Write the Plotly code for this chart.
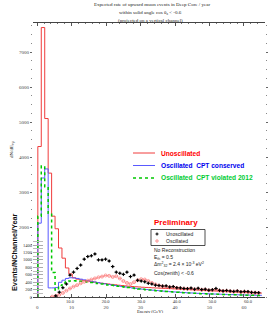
import numpy as np
import plotly.graph_objects as go

W, H = 275, 313

# ---------------- main histograms (dN/dE), 1 GeV bins starting at 0.2 GeV
bin_start = 0.2
bin_width = 1.0
unosc_main = [4300, 7700, 5100, 3540, 2310, 1950, 1400, 1110, 830, 660,
              550, 510, 490, 470, 455, 440, 425, 410, 395, 385,
              372, 360, 348, 337, 327, 317, 308, 300, 293, 286,
              279, 273, 268, 262, 257, 252, 247, 242, 238, 233,
              228, 223, 218, 213, 208, 203, 198, 193, 188, 183,
              178, 173, 168, 163, 158, 153, 148, 143, 138, 133,
              128, 124, 120, 116, 112]
osc_cpt_main = [2110, 3400, 3660, 260, 260, 270, 420, 480, 530, 550,
                545, 530, 510, 490, 470, 450, 430, 410, 392, 375,
                358, 343, 328, 314, 300, 286, 272, 259, 247, 235,
                224, 213, 203, 194, 185, 176, 168, 160, 152, 145,
                138, 132, 126, 120, 115, 110, 105, 100, 96, 92,
                88, 84, 80, 77, 74, 71, 68, 65, 62, 59,
                57, 54, 52, 50, 48]
osc_cptv_main = [2310, 3740, 3150, 2390, 700, 200, 330, 400, 440, 460,
                 465, 460, 450, 440, 428, 415, 402, 388, 374, 360,
                 346, 333, 320, 308, 296, 282, 269, 256, 244, 232,
                 221, 210, 200, 190, 181, 172, 164, 156, 148, 141,
                 134, 128, 122, 116, 111, 106, 101, 96, 92, 88,
                 84, 80, 76, 73, 70, 67, 64, 61, 58, 55,
                 53, 50, 48, 46, 44]

# ---------------- inset (Events/NChannel/Year)
inset_e_unosc = list(range(6, 64))
inset_unosc = [30, 130, 250, 350, 590, 670, 770, 860, 1020, 1090,
               1110, 1160, 1000, 1000, 1020, 970, 820, 670, 640, 610,
               670, 550, 590, 450, 430, 410, 370, 350, 320, 310,
               295, 300, 270, 280, 250, 245, 230, 225, 240, 210,
               235, 200, 210, 185, 195, 230, 180, 165, 175, 160,
               150, 165, 140, 150, 145, 125, 120, 115]
inset_e_osc = list(range(5, 64))
inset_osc = [10, 30, 60, 110, 170, 230, 280, 320, 370, 410,
             440, 470, 500, 530, 550, 580, 570, 540, 560, 500,
             430, 380, 350, 400, 450, 480, 470, 430, 380, 340,
             310, 290, 275, 265, 260, 245, 235, 225, 220, 225,
             205, 215, 195, 200, 180, 185, 200, 170, 160, 165,
             155, 145, 155, 135, 140, 135, 120, 115, 110]

main_xticks = [0, 10, 20, 30, 40, 50, 60]
main_yticks = [2000, 3000, 4000, 5000, 6000, 7000]
inset_xticks = [10, 20, 30, 40, 50, 60]
inset_xticktext = ["10.0", "20.0", "30.0", "40.0", "50.0", "60.0"]
inset_yticks = [0, 200, 400, 600, 800, 1000, 1200, 1400]

SERIF = "Liberation Serif"
SANS = "Liberation Sans"


def px(x):
    return x / W


def py(y):
    return 1 - y / H


def step_xy(values):
    n = len(values)
    edges = bin_start + np.arange(n + 1) * bin_width
    xs = [edges[0]] + list(edges)
    ys = [0] + list(values) + [values[-1]]
    return xs, ys


fig = go.Figure()

for vals, color, dash, width in [
    (unosc_main, "rgb(240,60,60)", "solid", 1),
    (osc_cpt_main, "rgb(90,90,255)", "solid", 1),
    (osc_cptv_main, "rgb(0,200,0)", "dot", 1.5),
]:
    xs, ys = step_xy(vals)
    fig.add_trace(go.Scatter(x=xs, y=ys, mode="lines", line_shape="hv",
                             line=dict(color=color, width=width, dash=dash),
                             xaxis="x", yaxis="y", showlegend=False,
                             hoverinfo="skip"))

fig.add_trace(go.Scatter(
    x=inset_e_osc, y=inset_osc, mode="markers",
    marker=dict(symbol="circle-open", size=3, color="rgba(250,110,110,0.85)",
                line=dict(width=0.8)),
    error_x=dict(type="constant", value=0.5, color="rgba(250,110,110,0.85)",
                 thickness=0.8, width=0),
    xaxis="x2", yaxis="y2", showlegend=False, hoverinfo="skip"))

fig.add_trace(go.Scatter(
    x=inset_e_unosc, y=inset_unosc, mode="markers",
    marker=dict(symbol="circle", size=2, color="black"),
    error_x=dict(type="constant", value=0.5, color="black", thickness=1, width=0),
    error_y=dict(type="constant", value=45, color="black", thickness=1, width=0),
    xaxis="x2", yaxis="y2", showlegend=False, hoverinfo="skip"))

tickfont = dict(family=SERIF, size=5, color="#444")

shapes = []
# main legend lines
shapes.append(dict(type="line", xref="paper", yref="paper", x0=px(133), x1=px(155),
                   y0=py(153), y1=py(153), line=dict(color="rgb(240,60,60)", width=1)))
shapes.append(dict(type="line", xref="paper", yref="paper", x0=px(133), x1=px(155),
                   y0=py(165.5), y1=py(165.5), line=dict(color="rgb(90,90,255)", width=1)))
shapes.append(dict(type="line", xref="paper", yref="paper", x0=px(133), x1=px(155),
                   y0=py(178), y1=py(178), line=dict(color="rgb(0,200,0)", width=1.5, dash="dot")))
# inset legend box
shapes.append(dict(type="rect", xref="paper", yref="paper", x0=px(151), x1=px(205),
                   y0=py(245.5), y1=py(229.5), line=dict(color="#222", width=0.8)))
# black cross marker
shapes.append(dict(type="line", xref="paper", yref="paper", x0=px(155.5), x1=px(158.5),
                   y0=py(234), y1=py(234), line=dict(color="black", width=1)))
shapes.append(dict(type="line", xref="paper", yref="paper", x0=px(157), x1=px(157),
                   y0=py(232.5), y1=py(235.5), line=dict(color="black", width=1)))
# red open circle marker
shapes.append(dict(type="circle", xref="paper", yref="paper", x0=px(155.8), x1=px(158.2),
                   y0=py(242.2), y1=py(239.8), line=dict(color="rgb(250,110,110)", width=0.8)))

ann = []


def text(x, y, s, size, color="#222", family=SERIF, xanchor="left", bold=False, angle=0):
    if bold:
        s = "<b>" + s + "</b>"
    ann.append(dict(x=px(x), y=py(y), xref="paper", yref="paper", text=s,
                    showarrow=False, xanchor=xanchor, yanchor="middle",
                    textangle=angle,
                    font=dict(family=family, size=size, color=color)))


# title
text(152, 4.5, "Expected rate of upward muon events in Deep Core / year", 5, xanchor="center")
text(150, 12.5, "within solid angle cos θ<sub>z</sub> &lt; -0.6", 5, xanchor="center")
text(150, 20.5, "(projected on a vertical channel)", 5, xanchor="center")

# main legend
text(159, 153, "Unoscillated", 6.6, color="#ff0000", family=SANS, bold=True)
text(159, 165.5, "Oscillated  CPT conserved", 6.6, color="#0000ee", family=SANS, bold=True)
text(159, 178, "Oscillated  CPT violated 2012", 6.6, color="#00cc33", family=SANS, bold=True)

# axis titles
text(12, 150, "dN/dE<sub>νμ</sub>", 5, xanchor="center", angle=-90)
text(14, 252, "Events/NChannel/Year", 7.3, color="#111", family=SANS, xanchor="center",
     bold=True, angle=-90)
text(150, 311, "Energy (GeV)", 4.6, xanchor="center")

# inset texts
text(176, 222.5, "Preliminary", 8, color="#ff0000", family=SANS, xanchor="center", bold=True)
text(164, 234, "Unoscillated", 5, family=SANS)
text(164, 241, "Oscillated", 5, family=SANS)
text(152, 249.5, "No Reconstruction", 5, family=SANS)
text(152, 257, "E<sub>th</sub> = 0.5", 5, family=SANS)
text(152, 264.5, "Δm<sup>2</sup><sub>32</sub> = 2.4 × 10<sup>-3</sup> eV<sup>2</sup>", 5, family=SANS)
text(152, 273, "Cos(zenith) &lt; -0.6", 5, family=SANS)

fig.update_layout(
    width=W, height=H,
    margin=dict(l=0, r=0, t=0, b=0, autoexpand=False),
    paper_bgcolor="white", plot_bgcolor="rgba(0,0,0,0)",
    showlegend=False,
    xaxis=dict(domain=[px(33), px(265)], range=[-1.2, 66.1], anchor="y",
               automargin=False,
               tickvals=main_xticks, ticktext=[str(v) for v in main_xticks],
               ticks="inside", ticklen=3, tickcolor="#555", tickwidth=0.7,
               minor=dict(dtick=2, ticklen=1.5, ticks="inside", tickcolor="#777"),
               showline=True, linecolor="#444", linewidth=0.8, mirror="allticks",
               showgrid=False, zeroline=False, tickfont=tickfont,
               ticklabelstandoff=5),
    yaxis=dict(domain=[py(297), py(23)], range=[0, 7830], anchor="x",
               automargin=False,
               tickvals=main_yticks, ticktext=[str(v) for v in main_yticks],
               ticks="outside", ticklen=2, tickcolor="#666", tickwidth=0.7,
               minor=dict(dtick=250, ticklen=1, ticks="outside", tickcolor="#888"),
               showline=False, mirror="allticks",
               showgrid=False, zeroline=False, tickfont=tickfont),
    xaxis2=dict(domain=[px(33), px(265)], range=[-0.39, 64.78], anchor="y2",
                automargin=False,
                tickvals=inset_xticks, ticktext=inset_xticktext,
                ticks="outside", ticklen=1, tickcolor="#555",
                showline=False, showgrid=False, zeroline=False,
                tickfont=dict(family=SERIF, size=4.5, color="#333"),
                ticklabelstandoff=-1),
    yaxis2=dict(domain=[py(297), py(237)], range=[0, 1617], anchor="x2",
                automargin=False,
                tickvals=inset_yticks, ticktext=[str(v) for v in inset_yticks],
                ticks="inside", ticklen=10, tickcolor="#aaa", tickwidth=0.8,
                minor=dict(dtick=100, ticklen=10, ticks="inside", tickcolor="#bbb"),
                showline=False, showgrid=False, zeroline=False,
                tickfont=dict(family=SERIF, size=4.5, color="#333")),
    shapes=shapes,
    annotations=ann,
)

fig.write_html("out.html",
               config={"displayModeBar": False},
               post_script="document.body.style.margin='0px';document.body.style.overflow='hidden';")
